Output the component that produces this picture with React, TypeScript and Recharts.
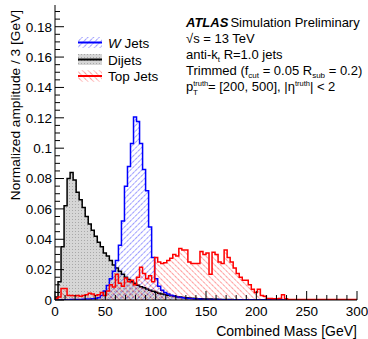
import { ComposedChart, Area, XAxis, YAxis } from "recharts";

const BIN_WIDTH = 3; // GeV per bin
const X_MAX = 300;
const Y_MAX = 0.1943;

// normalized amplitude per 3 GeV bin, bins start at 0, 3, 6 ... 297
const W_JETS = [
  0, 0, 0.0001, 0.0002, 0.0002, 0.0003, 0.0003, 0.0004, 0.0004, 0.0005,
  0.0006, 0.0007, 0.0008, 0.001, 0.0015, 0.003, 0.006, 0.0095, 0.014, 0.019,
  0.026, 0.036, 0.052, 0.075, 0.088, 0.103, 0.1205, 0.1175, 0.103, 0.086,
  0.072, 0.048, 0.028, 0.014, 0.009, 0.0065, 0.005, 0.004, 0.0032, 0.0026,
  0.0021, 0.0017, 0.0014, 0.0012, 0.001, 0.0008, 0.0007, 0.0006, 0.0005, 0.0004,
  0.0003, 0.0003, 0.0003, 0.0003, 0.0003, 0.0002, 0.0002, 0.0002, 0.0002, 0.0002,
  0.0002, 0.0002, 0.0002, 0.0002, 0.0002, 0.0001, 0.0001, 0.0001, 0.0001, 0.0001,
  0.0001, 0.0001, 0.0001, 0.0001, 0.0001, 0.0001, 0.0001, 0.0001, 0.0001, 0.0001,
  0.0001, 0.0001, 0.0001, 0.0001, 0.0001, 0.0001, 0.0001, 0.0001, 0.0001, 0.0001,
  0.0001, 0.0001, 0.0001, 0.0001, 0.0001, 0.0001, 0.0001, 0.0001, 0.0001, 0.0001,
];

const DIJETS = [
  0.002, 0.012, 0.035, 0.062, 0.08, 0.084, 0.079, 0.071, 0.066, 0.061,
  0.055, 0.05, 0.046, 0.042, 0.038, 0.035, 0.031, 0.029, 0.026, 0.023,
  0.021, 0.019, 0.017, 0.015, 0.0135, 0.012, 0.011, 0.0097, 0.0088, 0.008,
  0.0072, 0.0064, 0.0057, 0.0051, 0.0045, 0.004, 0.0036, 0.0031, 0.0028, 0.0025,
  0.0022, 0.0019, 0.0017, 0.0015, 0.0013, 0.0012, 0.001, 0.0009, 0.0008, 0.0007,
  0.0006, 0.0006, 0.0005, 0.0005, 0.0004, 0.0004, 0.0003, 0.0003, 0.0003, 0.0002,
  0.0002, 0.0002, 0.0002, 0.0002, 0.0002, 0.0002, 0.0002, 0.0002, 0.0002, 0.0002,
  0.0001, 0.0001, 0.0001, 0.0001, 0.0001, 0.0001, 0.0001, 0.0001, 0.0001, 0.0001,
  0.0001, 0.0001, 0.0001, 0.0001, 0.0001, 0.0001, 0.0001, 0.0001, 0.0001, 0.0001,
  0.0001, 0.0001, 0.0001, 0.0001, 0.0001, 0.0001, 0.0001, 0.0001, 0.0001, 0.0001,
];

const TOP_JETS = [
  0.001, 0.002, 0.0075, 0.0075, 0.003, 0.003, 0.0028, 0.003, 0.0025, 0.003,
  0.0035, 0.0045, 0.004, 0.003, 0.0035, 0.005, 0.003, 0.006, 0.01, 0.0085,
  0.017, 0.011, 0.009, 0.0145, 0.012, 0.013, 0.01, 0.015, 0.0215, 0.0175,
  0.014, 0.016, 0.012, 0.028, 0.025, 0.024, 0.0245, 0.026, 0.0275, 0.03,
  0.029, 0.034, 0.033, 0.033, 0.025, 0.024, 0.024, 0.024, 0.032, 0.03,
  0.031, 0.017, 0.0315, 0.03, 0.025, 0.024, 0.033, 0.028, 0.025, 0.021,
  0.0175, 0.015, 0.013, 0.013, 0.01, 0.007, 0.005, 0.007, 0.003, 0.0025,
  0.001, 0.001, 0.0008, 0.0008, 0.001, 0.0035, 0.0008, 0.0003, 0.0003, 0.0003,
  0.0003, 0.0003, 0.0003, 0.0003, 0.0003, 0.0003, 0.0003, 0.0003, 0.0003, 0.0003,
  0.0003, 0.0003, 0.0003, 0.0003, 0.0003, 0.0003, 0.0003, 0.0003, 0.0003, 0.0003,
];

const X_TICKS = [
  0, 10, 20, 30, 40, 50, 60, 70, 80, 90, 100, 110, 120, 130, 140, 150,
  160, 170, 180, 190, 200, 210, 220, 230, 240, 250, 260, 270, 280, 290, 300,
];

const Y_TICKS = [
  0, 0.005, 0.01, 0.015, 0.02, 0.025, 0.03, 0.035, 0.04, 0.045, 0.05, 0.055,
  0.06, 0.065, 0.07, 0.075, 0.08, 0.085, 0.09, 0.095, 0.1, 0.105, 0.11, 0.115,
  0.12, 0.125, 0.13, 0.135, 0.14, 0.145, 0.15, 0.155, 0.16, 0.165, 0.17, 0.175,
  0.18, 0.185, 0.19,
];

// step chart points sit on the lower bin edge, plus a closing point at 300
const data = W_JETS.map((w, i) => ({
  m: i * BIN_WIDTH,
  w,
  dj: DIJETS[i],
  top: TOP_JETS[i],
}));
data.push({
  m: X_MAX,
  w: W_JETS[W_JETS.length - 1],
  dj: DIJETS[DIJETS.length - 1],
  top: TOP_JETS[TOP_JETS.length - 1],
});

const FONT = "'Liberation Sans', Arial, Helvetica, sans-serif";
const LABEL_SIZE = 13.5;

const isMajorX = (v: number) => v % 50 === 0;
const isMajorY = (v: number) => Math.round(v * 1000) % 20 === 0;
const fmtY = (v: number) => (v === 0 ? "0" : String(Number(v.toFixed(2))));

// ROOT style ticks: pointing into the frame
const BottomTick = ({ x, y, payload }: any) => {
  const v = payload.value;
  const major = isMajorX(v);
  return (
    <g>
      <line x1={x} x2={x} y1={y} y2={y - (major ? 9 : 5)} stroke="#000" />
      {major && (
        <text x={x} y={y + 16} textAnchor="middle" fontSize={LABEL_SIZE} fill="#000">
          {v}
        </text>
      )}
    </g>
  );
};

const TopTick = ({ x, y, payload }: any) => (
  <line x1={x} x2={x} y1={y} y2={y + (isMajorX(payload.value) ? 9 : 5)} stroke="#000" />
);

const LeftTick = ({ x, y, payload }: any) => {
  const v = payload.value;
  const major = isMajorY(v);
  return (
    <g>
      <line x1={x} x2={x + (major ? 9 : 5)} y1={y} y2={y} stroke="#000" />
      {major && (
        <text x={x - 3} y={y + 4.8} textAnchor="end" fontSize={LABEL_SIZE} fill="#000">
          {fmtY(v)}
        </text>
      )}
    </g>
  );
};

const RightTick = ({ x, y, payload }: any) => (
  <line x1={x} x2={x - (isMajorY(payload.value) ? 9 : 5)} y1={y} y2={y} stroke="#000" />
);

const LEGEND = [
  { label: "Jets", italic: "W", color: "#0000ff", fill: "url(#wHatch)", y: 42.5 },
  { label: "Dijets", italic: "", color: "#000000", fill: "url(#djDots)", y: 59.5 },
  { label: "Top Jets", italic: "", color: "#ff0000", fill: "url(#topHatch)", y: 76 },
];

export default function App() {
  return (
    <div style={{ position: "absolute", left: 0, top: 0, width: 368, height: 339, fontFamily: FONT, background: "#fff" }}>
      <svg width={0} height={0} style={{ position: "absolute" }}>
        <defs>
          <pattern id="wHatch" width="4" height="4" patternUnits="userSpaceOnUse" patternTransform="rotate(45)">
            <line x1="0" y1="0" x2="0" y2="4" stroke="#0000ff" strokeWidth="0.8" strokeDasharray="1.6 0.8" />
          </pattern>
          <pattern id="topHatch" width="4" height="4" patternUnits="userSpaceOnUse" patternTransform="rotate(-45)">
            <line x1="0" y1="0" x2="0" y2="4" stroke="#ff0000" strokeWidth="0.8" strokeDasharray="1.6 0.8" />
          </pattern>
          <pattern id="djDots" width="3" height="3" patternUnits="userSpaceOnUse">
            <rect x="0" y="0" width="3" height="3" fill="#d6d6d6" />
            <rect x="0" y="0" width="1" height="1" fill="#a8a8a8" />
          </pattern>
        </defs>
      </svg>

      <ComposedChart
        width={368}
        height={339}
        data={data}
        margin={{ top: 5, right: 11, bottom: 9, left: 10 }}
      >
        <XAxis
          dataKey="m"
          type="number"
          domain={[0, X_MAX]}
          ticks={X_TICKS}
          interval={0}
          height={30}
          tickSize={0}
          tickMargin={0}
          tickLine={false}
          tick={<BottomTick />}
          axisLine={{ stroke: "#000" }}
          allowDataOverflow
        />
        <XAxis
          xAxisId="top"
          orientation="top"
          dataKey="m"
          type="number"
          domain={[0, X_MAX]}
          ticks={X_TICKS}
          interval={0}
          height={0}
          tickSize={0}
          tickMargin={0}
          tickLine={false}
          tick={<TopTick />}
          axisLine={{ stroke: "#000" }}
          allowDataOverflow
        />
        <YAxis
          type="number"
          domain={[0, Y_MAX]}
          ticks={Y_TICKS}
          interval={0}
          width={45}
          tickSize={0}
          tickMargin={0}
          tickLine={false}
          tick={<LeftTick />}
          axisLine={{ stroke: "#000" }}
          allowDataOverflow
        />
        <YAxis
          yAxisId="right"
          orientation="right"
          type="number"
          domain={[0, Y_MAX]}
          ticks={Y_TICKS}
          interval={0}
          width={0}
          tickSize={0}
          tickMargin={0}
          tickLine={false}
          tick={<RightTick />}
          axisLine={{ stroke: "#000" }}
          allowDataOverflow
        />
        <Area
          type="stepAfter"
          dataKey="dj"
          stroke="#000"
          strokeWidth={1.5}
          fill="url(#djDots)"
          fillOpacity={1}
          dot={false}
          activeDot={false}
          isAnimationActive={false}
        />
        <Area
          type="stepAfter"
          dataKey="w"
          stroke="#0000ff"
          strokeWidth={1.5}
          fill="url(#wHatch)"
          fillOpacity={1}
          dot={false}
          activeDot={false}
          isAnimationActive={false}
        />
        <Area
          type="stepAfter"
          dataKey="top"
          stroke="#ff0000"
          strokeWidth={1.5}
          fill="url(#topHatch)"
          fillOpacity={1}
          dot={false}
          activeDot={false}
          isAnimationActive={false}
        />
      </ComposedChart>

      {/* labels, legend and ATLAS text on top of the plot */}
      <svg width={368} height={339} style={{ position: "absolute", left: 0, top: 0, pointerEvents: "none" }}>
        <text x={357} y={336} textAnchor="end" fontSize={14} fill="#000">
          Combined Mass [GeV]
        </text>
        <text x={20} y={10} textAnchor="end" fontSize={13.7} fill="#000" transform="rotate(-90 20 10)">
          Normalized amplitude / 3 [GeV]
        </text>

        {LEGEND.map((d) => (
          <g key={d.label + d.italic}>
            <rect x={78} y={d.y - 5.5} width={24} height={11} fill={d.fill} />
            <line x1={78} x2={102} y1={d.y} y2={d.y} stroke={d.color} strokeWidth={2} />
            <text x={108} y={d.y + 5} fontSize={13.5} fill="#000">
              {d.italic && <tspan fontStyle="italic">{d.italic} </tspan>}
              {d.label}
            </text>
          </g>
        ))}

        <g fontSize={13} fill="#000">
          <text x={186} y={27}>
            <tspan fontWeight="bold" fontStyle="italic">ATLAS</tspan>
            <tspan dx={2}>Simulation Preliminary</tspan>
          </text>
          <text x={186} y={43}>√s = 13 TeV</text>
          <text x={186} y={59}>
            anti-k<tspan fontSize={8} dy={3}>t</tspan>
            <tspan dy={-3}> R=1.0 jets</tspan>
          </text>
          <text x={186} y={75}>
            Trimmed (f<tspan fontSize={8} dy={3}>cut</tspan>
            <tspan dy={-3}> = 0.05 R</tspan>
            <tspan fontSize={8} dy={3}>sub</tspan>
            <tspan dy={-3}> = 0.2)</tspan>
          </text>
          <text x={186} y={91}>
            p<tspan fontSize={7.5} dy={-5}>truth</tspan>
            <tspan fontSize={8} x={193} dy={9}>T</tspan>
            <tspan x={208} dy={-4}>= [200, 500], |η</tspan>
            <tspan fontSize={7.5} dy={-5}>truth</tspan>
            <tspan dy={5}>| &lt; 2</tspan>
          </text>
        </g>
      </svg>
    </div>
  );
}
